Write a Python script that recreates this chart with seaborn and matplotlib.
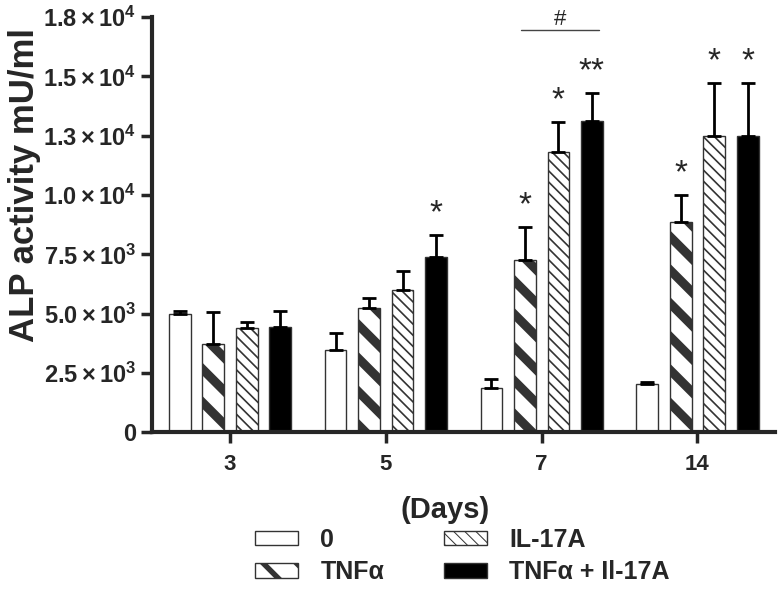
import matplotlib
matplotlib.use("Agg")
import matplotlib.pyplot as plt
from matplotlib.patches import Patch
import pandas as pd
import seaborn as sns

# data
days = ["3", "5", "7", "14"]
treatments = ["0", "TNFα", "IL-17A", "TNFα + Il-17A"]
alp_0 = [5000, 3460, 1850, 2020]
alp_tnf = [3720, 5230, 7250, 8850]
alp_il17 = [4390, 5990, 11800, 12480]
alp_both = [4430, 7380, 13110, 12480]
sd_0 = [110, 710, 380, 90]
sd_tnf = [1350, 420, 1390, 1140]
sd_il17 = [260, 800, 1270, 2230]
sd_both = [670, 920, 1180, 2230]
stars_tnf = ["", "", "*", "*"]
stars_il17 = ["", "", "*", "*"]
stars_both = ["", "*", "**", "*"]
ytick_vals = [0, 2500, 5000, 7500, 10000, 12500, 15000, 17500]
ytick_labels = ["0", r"$2.5\times10^{3}$", r"$5.0\times10^{3}$", r"$7.5\times10^{3}$",
                r"$1.0\times10^{4}$", r"$1.3\times10^{4}$", r"$1.5\times10^{4}$",
                r"$1.8\times10^{4}$"]

means = [alp_0, alp_tnf, alp_il17, alp_both]
sds = [sd_0, sd_tnf, sd_il17, sd_both]
stars = [[""] * 4, stars_tnf, stars_il17, stars_both]

rows = []
for t, vals in zip(treatments, means):
    for d, v in zip(days, vals):
        rows.append({"day": d, "treatment": t, "alp": v})
df = pd.DataFrame(rows)

sns.set_style("ticks")
plt.rcParams["font.family"] = ["Liberation Sans", "DejaVu Sans"]
plt.rcParams["font.weight"] = "bold"
plt.rcParams["hatch.color"] = "black"
plt.rcParams["mathtext.fontset"] = "custom"
plt.rcParams["mathtext.rm"] = "Liberation Sans:bold"
plt.rcParams["mathtext.it"] = "Liberation Sans:bold"
plt.rcParams["mathtext.bf"] = "Liberation Sans:bold"

fig = plt.figure(figsize=(7.84, 5.92), dpi=100)
ax = fig.add_axes([0.194, 0.27, 0.795, 0.701])

face = ["white", "white", "white", "black"]
hatches = [None, "\\", "\\\\\\", None]
hatch_lw = [1, 6.5, 1.2, 1]

sns.barplot(data=df, x="day", y="alp", hue="treatment", order=days,
            hue_order=treatments, palette=face, errorbar=None,
            width=0.86, gap=0.35, edgecolor="black", linewidth=1,
            legend=False, ax=ax)

bar_groups = list(ax.containers)
centers = []
for i, cont in enumerate(bar_groups):
    xs = []
    for bar in cont.patches:
        bar.set_facecolor(face[i])
        bar.set_edgecolor("#333333")
        if hatches[i]:
            bar.set_hatch(hatches[i])
            if hasattr(bar, "set_hatch_linewidth"):
                bar.set_hatch_linewidth(hatch_lw[i])
        xs.append(bar.get_x() + bar.get_width() / 2)
    centers.append(xs)
    ax.errorbar(xs, means[i], yerr=[[0] * 4, sds[i]], fmt="none",
                ecolor="black", elinewidth=2, capsize=5, capthick=2, zorder=3)
    for x, m, s, st in zip(xs, means[i], sds[i], stars[i]):
        if st:
            ax.text(x, m + s + 250, st, ha="center", va="bottom",
                    fontsize=24, fontweight="normal")

# # bracket over day 7 treatments
x1 = centers[1][2] - 0.025
x2 = centers[3][2] + 0.045
ax.plot([x1, x2], [16950, 16950], color="#444444", lw=1, clip_on=False)
ax.text((x1 + x2) / 2, 17420, "#", ha="center", va="center", fontsize=16,
        fontweight="normal", clip_on=False)

ax.set_xlim(-0.5, 3.5)
ax.set_ylim(0, 17500)
ax.set_yticks(ytick_vals)
ax.set_yticklabels(ytick_labels)
ax.tick_params(axis="both", width=2.5, length=8, labelsize=17)
ax.tick_params(axis="x", labelsize=16, pad=8)
for lab in ax.get_xticklabels() + ax.get_yticklabels():
    lab.set_fontweight("bold")
sns.despine(ax=ax)
ax.spines["left"].set_linewidth(3)
ax.spines["bottom"].set_linewidth(3)
ax.set_ylabel("ALP activity mU/ml", fontsize=25, fontweight="bold")
ax.yaxis.set_label_coords(-0.178, 0.595)
ax.set_xlabel("(Days)", fontsize=21, fontweight="bold")
ax.xaxis.set_label_coords(0.47, -0.155)

handles = [Patch(facecolor=face[i], edgecolor="#333333",
                 hatch=hatches[i]) for i in range(4)]
leg = fig.legend(handles, treatments, ncol=2, loc="center",
                 bbox_to_anchor=(0.59, 0.061), frameon=False,
                 prop={"size": 18, "weight": "bold"}, handlelength=1.7,
                 handleheight=0.5, columnspacing=2.4, labelspacing=0.35,
                 handletextpad=0.9)
for h, lw in zip(leg.legend_handles, hatch_lw):
    if hasattr(h, "set_hatch_linewidth"):
        h.set_hatch_linewidth(lw * 0.6)

fig.savefig("out.png", dpi=100)
